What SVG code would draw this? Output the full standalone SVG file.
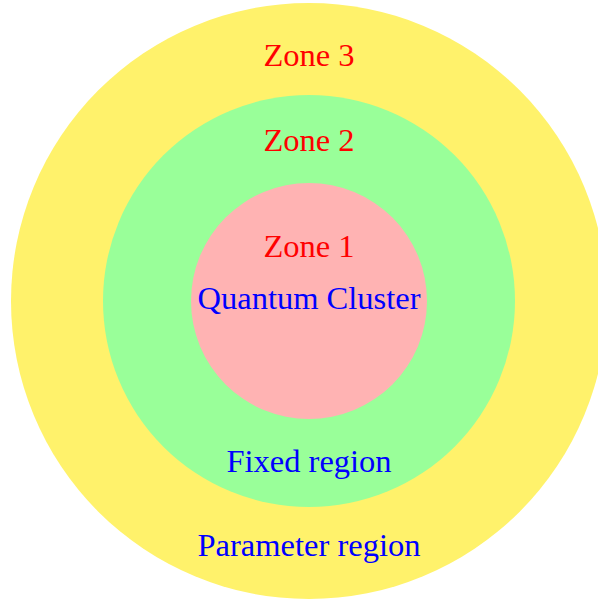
<svg xmlns="http://www.w3.org/2000/svg" width="598" height="602" viewBox="0 0 598 602">
<style>
text{font-family:"Liberation Serif","DejaVu Serif",serif;font-size:32.5px;text-anchor:middle}
.zone{fill:#FF0000}
.lbl{fill:#0000FF}
</style>
<rect width="598" height="602" fill="#FFFFFF"/>
<g id="zone3">
<circle cx="309" cy="301" r="298" fill="#FFF26B"/>
<text class="zone" x="309" y="66">Zone 3</text>
<text class="lbl" x="309" y="556">Parameter region</text>
</g>
<g id="zone2">
<circle cx="309" cy="301" r="206" fill="#99FF99"/>
<text class="zone" x="309" y="151">Zone 2</text>
<text class="lbl" x="309" y="472">Fixed region</text>
</g>
<g id="zone1">
<circle cx="309" cy="301" r="118" fill="#FFB3B3"/>
<text class="zone" x="309" y="257">Zone 1</text>
<text class="lbl" x="309" y="309">Quantum Cluster</text>
</g>
<g id="connectors"></g>
</svg>
